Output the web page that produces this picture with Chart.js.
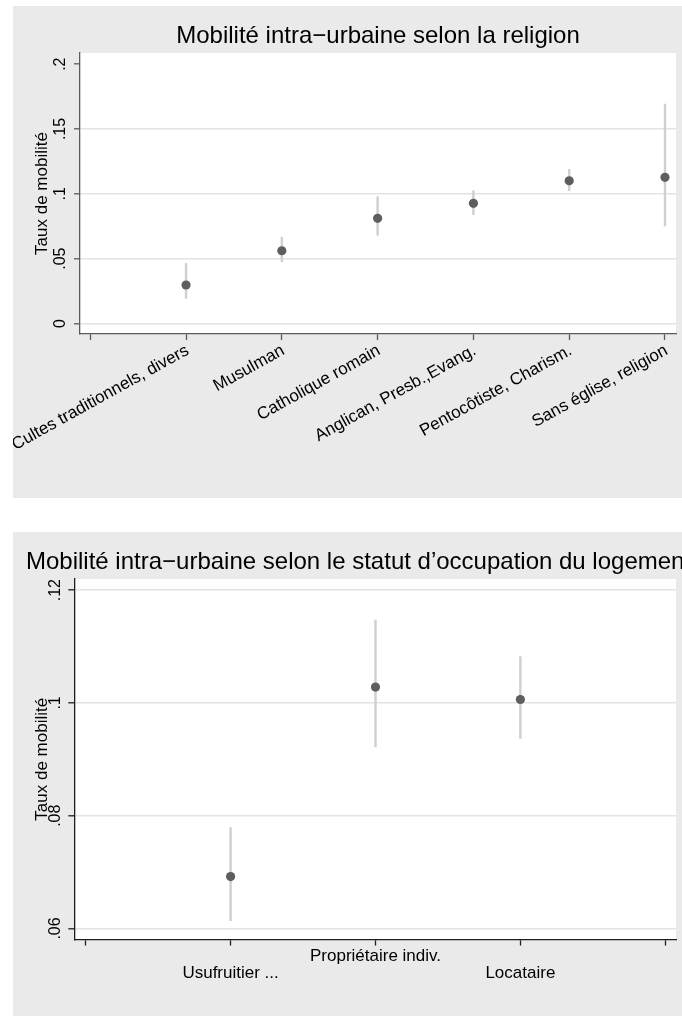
<!DOCTYPE html>
<html><head><meta charset="utf-8">
<script src="https://cdn.jsdelivr.net/npm/chart.js@4.4.1/dist/chart.umd.min.js"></script>
<style>
html,body{margin:0;padding:0;background:#fff;width:682px;height:1016px;overflow:hidden;}
.panel{position:absolute;left:13px;background:#EAEAEA;}
#p1{top:6px;width:669px;height:492px;}
#p2{top:532px;width:669px;height:484px;}
canvas{display:block;}
</style></head><body>
<div class="panel" id="p1"><canvas id="c1" width="669" height="492"></canvas></div>
<div class="panel" id="p2"><canvas id="c2" width="669" height="484"></canvas></div>
<script>
// ---- Data: chart 1 (religion) ----
const religionTitle = 'Mobilité intra\u2212urbaine selon la religion';
const religionCategories = ['Cultes traditionnels, divers', 'Musulman', 'Catholique romain', 'Anglican, Presb.,Evang.', 'Pentocôtiste, Charism.', 'Sans église, religion'];
const religionRate = [0.0297, 0.0561, 0.0811, 0.0927, 0.1101, 0.1127];
const religionLow  = [0.0194, 0.0476, 0.0680, 0.0839, 0.1024, 0.0752];
const religionHigh = [0.0464, 0.0665, 0.0978, 0.1024, 0.1189, 0.1692];
const religionYTicks = [0, 0.05, 0.1, 0.15, 0.2];
const religionYTickLabels = ['0', '.05', '.1', '.15', '.2'];
const religionXTicks = [0, 1, 2, 3, 4, 5, 6];

// ---- Data: chart 2 (tenure status) ----
const tenureTitle = 'Mobilité intra\u2212urbaine selon le statut d\u2019occupation du logement';
const tenureCategories = ['Usufruitier ...', 'Propriétaire indiv.', 'Locataire'];
const tenureLabelRow = [1, 0, 1];
const tenureRate = [0.0692, 0.1028, 0.1006];
const tenureLow  = [0.0614, 0.0922, 0.0937];
const tenureHigh = [0.0779, 0.1147, 0.1082];
const tenureYTicks = [0.06, 0.08, 0.1, 0.12];
const tenureYTickLabels = ['.06', '.08', '.1', '.12'];
const tenureXTicks = [0, 1, 2, 3, 4];

const yAxisTitle = 'Taux de mobilité';
const FONT = '"Liberation Sans", Arial, Helvetica, sans-serif';

const plotBg = {
  id: 'plotBg',
  beforeDraw(chart) {
    const a = chart.chartArea, ctx = chart.ctx;
    ctx.save(); ctx.fillStyle = '#ffffff';
    ctx.fillRect(a.left, a.top, a.right - a.left, a.bottom - a.top);
    ctx.restore();
  }
};
const stataTitle = {
  id: 'stataTitle',
  afterDraw(chart, args, o) {
    const ctx = chart.ctx, a = chart.chartArea;
    ctx.save();
    ctx.font = o.size + 'px ' + FONT;
    ctx.fillStyle = '#000';
    ctx.textBaseline = 'alphabetic';
    if (o.align === 'center') { ctx.textAlign = 'center'; ctx.fillText(o.text, (a.left + a.right) / 2, o.baseline); }
    else { ctx.textAlign = 'left'; ctx.fillText(o.text, o.x, o.baseline); }
    ctx.restore();
  }
};
const yTickLabels = {
  id: 'yTickLabels',
  afterDraw(chart, args, o) {
    const s = chart.scales.y, ctx = chart.ctx;
    ctx.save();
    ctx.font = o.size + 'px ' + FONT;
    ctx.fillStyle = '#000';
    ctx.textAlign = 'center';
    ctx.textBaseline = 'alphabetic';
    s.ticks.forEach((t, i) => {
      const y = s.getPixelForValue(t.value);
      ctx.save();
      ctx.translate(s.right - o.gap, y);
      ctx.rotate(-Math.PI / 2);
      ctx.fillText(o.labels[i], 0, 0);
      ctx.restore();
    });
    ctx.restore();
  }
};

function makeChart(id, c) {
  const points = c.rate.map((v, i) => ({ x: i + 1, y: v }));
  const bars = c.low.map((v, i) => ({ x: i + 1, y: [v, c.high[i]] }));
  return new Chart(document.getElementById(id), {
    type: 'scatter',
    data: {
      datasets: [
        { type: 'scatter', data: points, order: 0, pointRadius: 4.6, pointBackgroundColor: '#5E5E5E', pointBorderWidth: 0, pointBorderColor: '#5E5E5E' },
        { type: 'bar', data: bars, order: 1, barThickness: 1.8, backgroundColor: '#D0D0D0', borderWidth: 0, grouped: false }
      ]
    },
    plugins: [plotBg, stataTitle, yTickLabels],
    options: {
      responsive: false, animation: false, events: [],
      layout: { padding: { top: 47, right: 6, left: 0, bottom: 0 }, autoPadding: false },
      plugins: {
        legend: { display: false }, tooltip: { enabled: false }, title: { display: false },
        stataTitle: { text: c.title, size: 24, align: c.titleAlign, x: 13, baseline: 36.7 },
        yTickLabels: { labels: c.yTickLabels, size: 16, gap: c.yGap }
      },
      scales: {
        x: {
          type: 'linear', min: c.xMin, max: c.xMax, offset: false,
          afterBuildTicks: s => { s.ticks = c.xTicks.map(v => ({ value: v })); },
          afterFit: s => { s.height = c.xHeight; },
          grid: { offset: false, drawOnChartArea: false, drawTicks: true, tickLength: 6, tickColor: c.axisColor, tickWidth: 1.3 },
          border: { display: true, color: c.axisColor, width: 1.3 },
          ticks: {
            autoSkip: false, minRotation: c.rot, maxRotation: c.rot, padding: c.xPad, labelOffset: c.labelOffset,
            color: '#000', font: { family: FONT, size: 17, lineHeight: c.xLineHeight },
            callback: c.xLabel
          }
        },
        y: {
          type: 'linear', min: c.yMin, max: c.yMax, beginAtZero: false,
          afterBuildTicks: s => { s.ticks = c.yTicks.map(v => ({ value: v })); },
          afterFit: s => { s.width = c.yWidth; },
          grid: {
            color: ctx => (c.hideTopGrid && ctx.tick && ctx.tick.value === c.yTicks[c.yTicks.length - 1]) ? 'rgba(0,0,0,0)' : '#E3E3E3',
            lineWidth: 1.6, drawTicks: true, tickLength: 6, tickColor: c.axisColor, tickWidth: 1.3
          },
          border: { display: true, color: c.axisColor, width: 1.3 },
          ticks: { display: false },
          title: { display: true, text: yAxisTitle, color: '#000', font: { family: FONT, size: 17, lineHeight: 1.2 }, padding: { top: 19, bottom: 0 } }
        }
      }
    }
  });
}

makeChart('c1', {
  title: religionTitle, titleAlign: 'center',
  rate: religionRate, low: religionLow, high: religionHigh,
  yTicks: religionYTicks, yTickLabels: religionYTickLabels, xTicks: religionXTicks,
  xMin: -0.107, xMax: 6.115, yMin: -0.0081, yMax: 0.2086,
  yWidth: 67, xHeight: 164, yGap: 15.3, rot: 29, xPad: 0.5, labelOffset: 1.5, xLineHeight: 1.2,
  axisColor: '#5a5a5a', hideTopGrid: true,
  xLabel: v => (v >= 1 && v <= religionCategories.length) ? religionCategories[v - 1] : ''
});

makeChart('c2', {
  title: tenureTitle, titleAlign: 'left',
  rate: tenureRate, low: tenureLow, high: tenureHigh,
  yTicks: tenureYTicks, yTickLabels: tenureYTickLabels, xTicks: tenureXTicks,
  xMin: -0.0787, xMax: 4.074, yMin: 0.05805, yMax: 0.12197,
  yWidth: 61.3, xHeight: 76.5, yGap: 14.6, rot: 0, xPad: 2.5, labelOffset: 0, xLineHeight: 1.0,
  axisColor: '#1e1e1e', hideTopGrid: false,
  xLabel: v => (v >= 1 && v <= tenureCategories.length) ? (tenureLabelRow[v - 1] ? ['', tenureCategories[v - 1]] : tenureCategories[v - 1]) : ''
});
</script>
</body></html>
